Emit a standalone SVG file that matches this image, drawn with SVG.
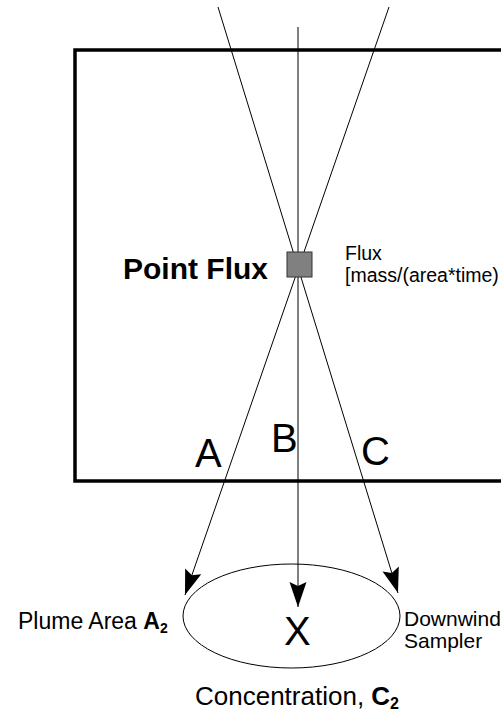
<svg xmlns="http://www.w3.org/2000/svg" width="501" height="718" viewBox="0 0 501 718">
<style>
  text { font-family: "Liberation Sans", Arial, sans-serif; fill: #000; }
  .ray { stroke: #000; stroke-width: 1; fill: none; }
  .b { font-weight: bold; }
</style>
<defs>
  <marker id="ah" viewBox="-26 -10 28 20" markerWidth="28" markerHeight="20" refX="0" refY="0" orient="auto" markerUnits="userSpaceOnUse">
    <path d="M0,0 L-25,-8.5 L-21,0 L-25,8.5 Z" fill="#000"/>
  </marker>
</defs>
<rect width="501" height="718" fill="#fff"/>
<g id="region">
  <rect x="75" y="50" width="500" height="431" fill="none" stroke="#000" stroke-width="3.5"/>
</g>
<g id="connectors">
  <line class="ray" x1="389" y1="7" x2="185" y2="595" marker-end="url(#ah)"/>
  <line class="ray" x1="298" y1="27" x2="298" y2="607" marker-end="url(#ah)"/>
  <line class="ray" x1="218" y1="7" x2="398" y2="593" marker-end="url(#ah)"/>
</g>
<g id="point-flux">
  <rect x="287" y="252" width="25" height="25" fill="#808080" stroke="#333" stroke-width="1"/>
  <text class="b" x="123" y="279" font-size="30">Point Flux</text>
</g>
<g id="flux-label">
  <text x="345" y="259.5" font-size="19.5">Flux</text>
  <text x="345" y="281.5" font-size="19.5">[mass/(area*time)</text>
</g>
<g id="label-a"><text x="195" y="467" font-size="40">A</text></g>
<g id="label-b"><text x="271" y="452" font-size="40">B</text></g>
<g id="label-c"><text x="361" y="465" font-size="40">C</text></g>
<g id="plume">
  <ellipse cx="291.5" cy="616" rx="108.5" ry="52" fill="none" stroke="#000" stroke-width="1"/>
  <text x="284" y="645" font-size="40">X</text>
</g>
<g id="plume-area-label">
  <text x="18" y="629" font-size="23">Plume Area <tspan class="b">A</tspan><tspan class="b" font-size="14" dy="4">2</tspan></text>
</g>
<g id="sampler-label">
  <text x="404" y="626" font-size="21">Downwind</text>
  <text x="404" y="648" font-size="21">Sampler</text>
</g>
<g id="concentration-label">
  <text x="195" y="705" font-size="26">Concentration, <tspan class="b">C</tspan><tspan class="b" font-size="16" dy="4">2</tspan></text>
</g>
</svg>
